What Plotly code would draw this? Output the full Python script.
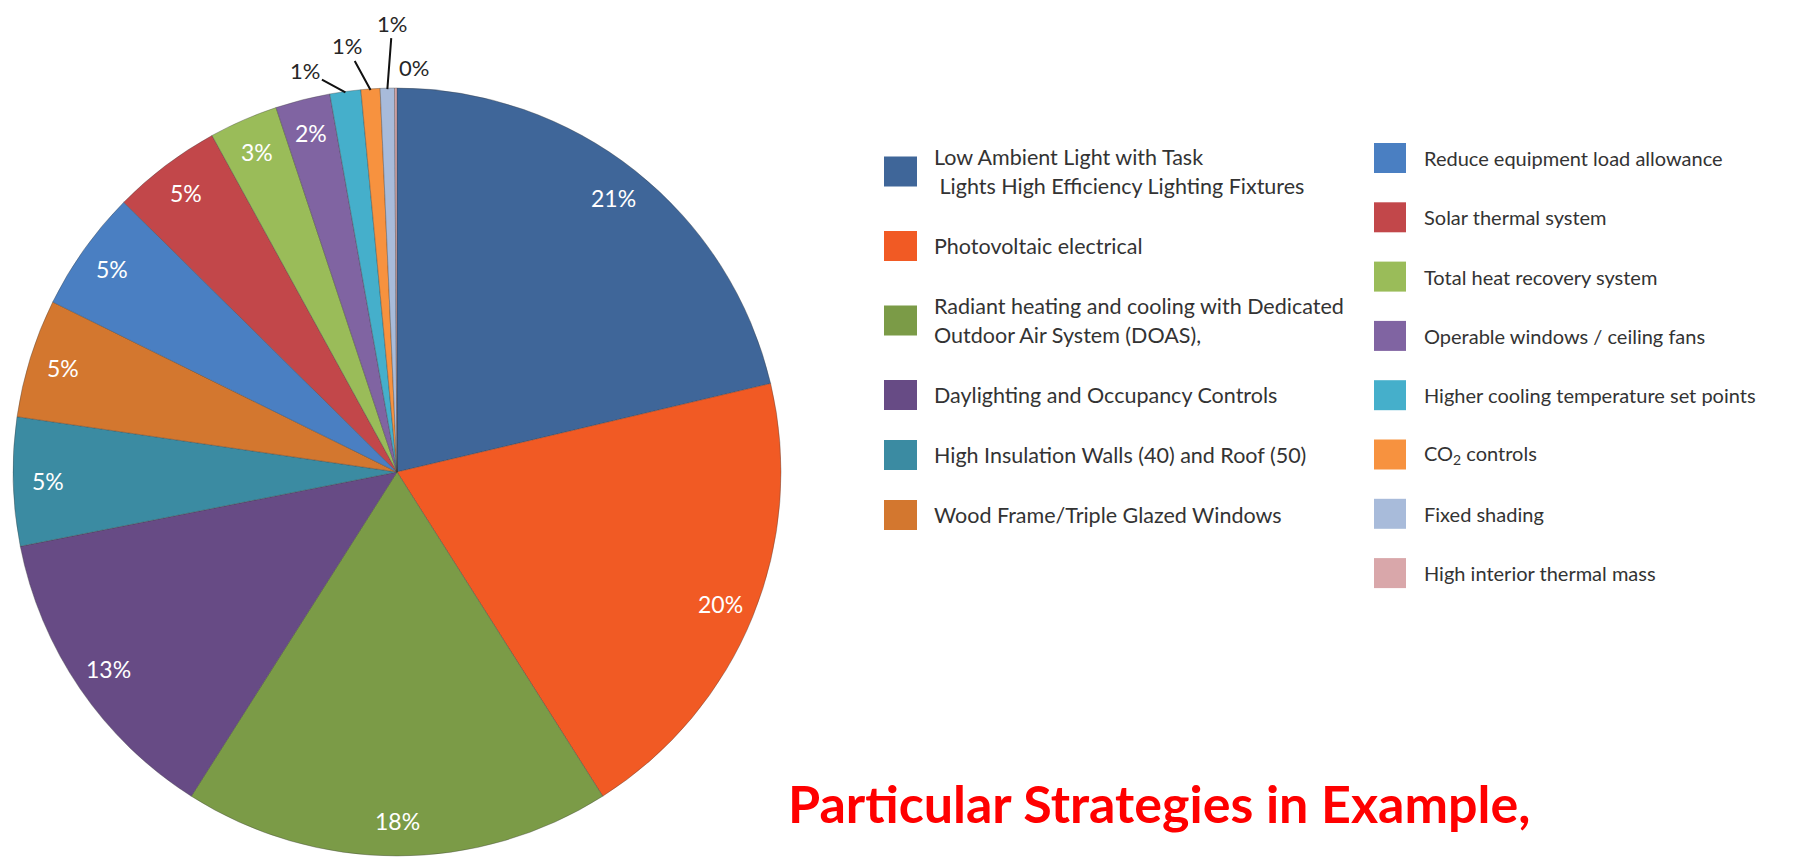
import math
import plotly.graph_objects as go

# Share of savings by strategy (percent), clockwise from 12 o'clock
strategies = [
    "Low Ambient Light with Task Lights High Efficiency Lighting Fixtures",
    "Photovoltaic electrical",
    "Radiant heating and cooling with Dedicated Outdoor Air System (DOAS),",
    "Daylighting and Occupancy Controls",
    "High Insulation Walls (40) and Roof (50)",
    "Wood Frame/Triple Glazed Windows",
    "Reduce equipment load allowance",
    "Solar thermal system",
    "Total heat recovery system",
    "Operable windows / ceiling fans",
    "Higher cooling temperature set points",
    "CO2 controls",
    "Fixed shading",
    "High interior thermal mass",
]
shares = [21.3, 19.7, 18.0, 12.9, 5.4, 5.0, 5.1, 4.6, 2.9, 2.3, 1.3, 0.8, 0.6, 0.1]
colors = [
    "#3F6699", "#F15A24", "#7B9B47", "#674B85", "#3B8BA2", "#D3772F", "#4A7FC2",
    "#C2474A", "#9ABC59", "#8064A2", "#45AFCB", "#F7923F", "#A8BBDA", "#D9A7AA",
]

# Legend text, one entry per line of text, split into two columns
legend_left = [
    ["Low Ambient Light with Task", "\u00a0Lights High Efficiency Lighting Fixtures"],
    ["Photovoltaic electrical"],
    ["Radiant heating and cooling with Dedicated", "Outdoor Air System (DOAS),"],
    ["Daylighting and Occupancy Controls"],
    ["High Insulation Walls (40) and Roof (50)"],
    ["Wood Frame/Triple Glazed Windows"],
]
legend_right = [
    ["Reduce equipment load allowance"],
    ["Solar thermal system"],
    ["Total heat recovery system"],
    ["Operable windows / ceiling fans"],
    ["Higher cooling temperature set points"],
    ["CO<sub>2</sub> controls"],
    ["Fixed shading"],
    ["High interior thermal mass"],
]
# Slices whose labels sit outside the pie, with the label offset in px
outside_offsets = {10: (-40, -22), 11: (-24, -44), 12: (5, -66), 13: (18, -22)}

title_text = "Particular Strategies in Example,"

W, H = 1800, 864
CX, CY, R = 397, 472, 384
FONT = "Lato"

fig = go.Figure()
fig.add_trace(go.Pie(
    labels=strategies,
    values=shares,
    sort=False,
    direction="clockwise",
    rotation=0,
    marker=dict(colors=colors, line=dict(color="rgba(60,60,60,0.35)", width=1)),
    textinfo="none",
    hoverinfo="label+percent",
    showlegend=False,
    domain=dict(x=[(CX - R) / W, (CX + R) / W], y=[1 - (CY + R) / H, 1 - (CY - R) / H]),
))

annotations = []
shapes = []

total = sum(shares)
cum = 0.0
for i, v in enumerate(shares):
    mid = (cum + v / 2) / total * 2 * math.pi
    cum += v
    pct = f"{round(v / total * 100)}%"
    if i in outside_offsets:
        ax, ay = outside_offsets[i]
        px = CX + (R - 1) * math.sin(mid)
        py = CY - (R - 1) * math.cos(mid)
        if i == 13:
            # the last slice's label sits beside the neighbouring leader line
            annotations.append(dict(
                x=px / W, y=1 - py / H, xref="paper", yref="paper",
                text=pct, font=dict(family=FONT, size=22, color="#262626"),
                showarrow=False, xanchor="center", yanchor="middle",
                xshift=ax, yshift=-ay,
            ))
        else:
            annotations.append(dict(
                x=px / W, y=1 - py / H, xref="paper", yref="paper",
                text=pct, font=dict(family=FONT, size=22, color="#262626"),
                showarrow=True, ax=ax, ay=ay, arrowhead=0, arrowwidth=2,
                arrowcolor="#111111", standoff=0,
                xanchor="center", yanchor="middle",
            ))
    else:
        rl = 0.91 * R
        px = CX + rl * math.sin(mid)
        py = CY - rl * math.cos(mid)
        annotations.append(dict(
            x=px / W, y=1 - py / H, xref="paper", yref="paper",
            text=pct, showarrow=False, xanchor="center", yanchor="middle",
            font=dict(family=FONT, size=23, color="#FFFFFF"),
        ))


def add_legend_column(entries, col_colors, sw_x0, sw_x1, text_x, y_first,
                      line_gap, item_gap, font_size):
    y = y_first
    for lines, col in zip(entries, col_colors):
        yc = y + (len(lines) - 1) * line_gap / 2
        shapes.append(dict(
            type="rect", xref="paper", yref="paper",
            x0=sw_x0 / W, x1=sw_x1 / W,
            y0=1 - (yc + 15) / H, y1=1 - (yc - 15) / H,
            fillcolor=col, line=dict(width=0),
        ))
        for k, line in enumerate(lines):
            annotations.append(dict(
                x=text_x / W, y=1 - (y + k * line_gap) / H, xref="paper", yref="paper",
                text=line, showarrow=False, xanchor="left", yanchor="middle",
                font=dict(family=FONT, size=font_size, color="#333333"),
            ))
        y += (len(lines) - 1) * line_gap + item_gap


add_legend_column(legend_left, colors[:6], 884, 917, 932, 157, 29, 60, 21.5)
add_legend_column(legend_right, colors[6:], 1374, 1406, 1422, 158, 29, 59.3, 20)

annotations.append(dict(
    x=786 / W, y=1 - 803 / H, xref="paper", yref="paper",
    text=f"<b>{title_text}</b>", showarrow=False, xanchor="left", yanchor="middle",
    font=dict(family=FONT, size=52, color="#FF0000"),
))

fig.update_layout(
    width=W, height=H,
    margin=dict(l=0, r=0, t=0, b=0),
    paper_bgcolor="#FFFFFF",
    plot_bgcolor="#FFFFFF",
    annotations=annotations,
    shapes=shapes,
)

fig.write_html("out.html")
